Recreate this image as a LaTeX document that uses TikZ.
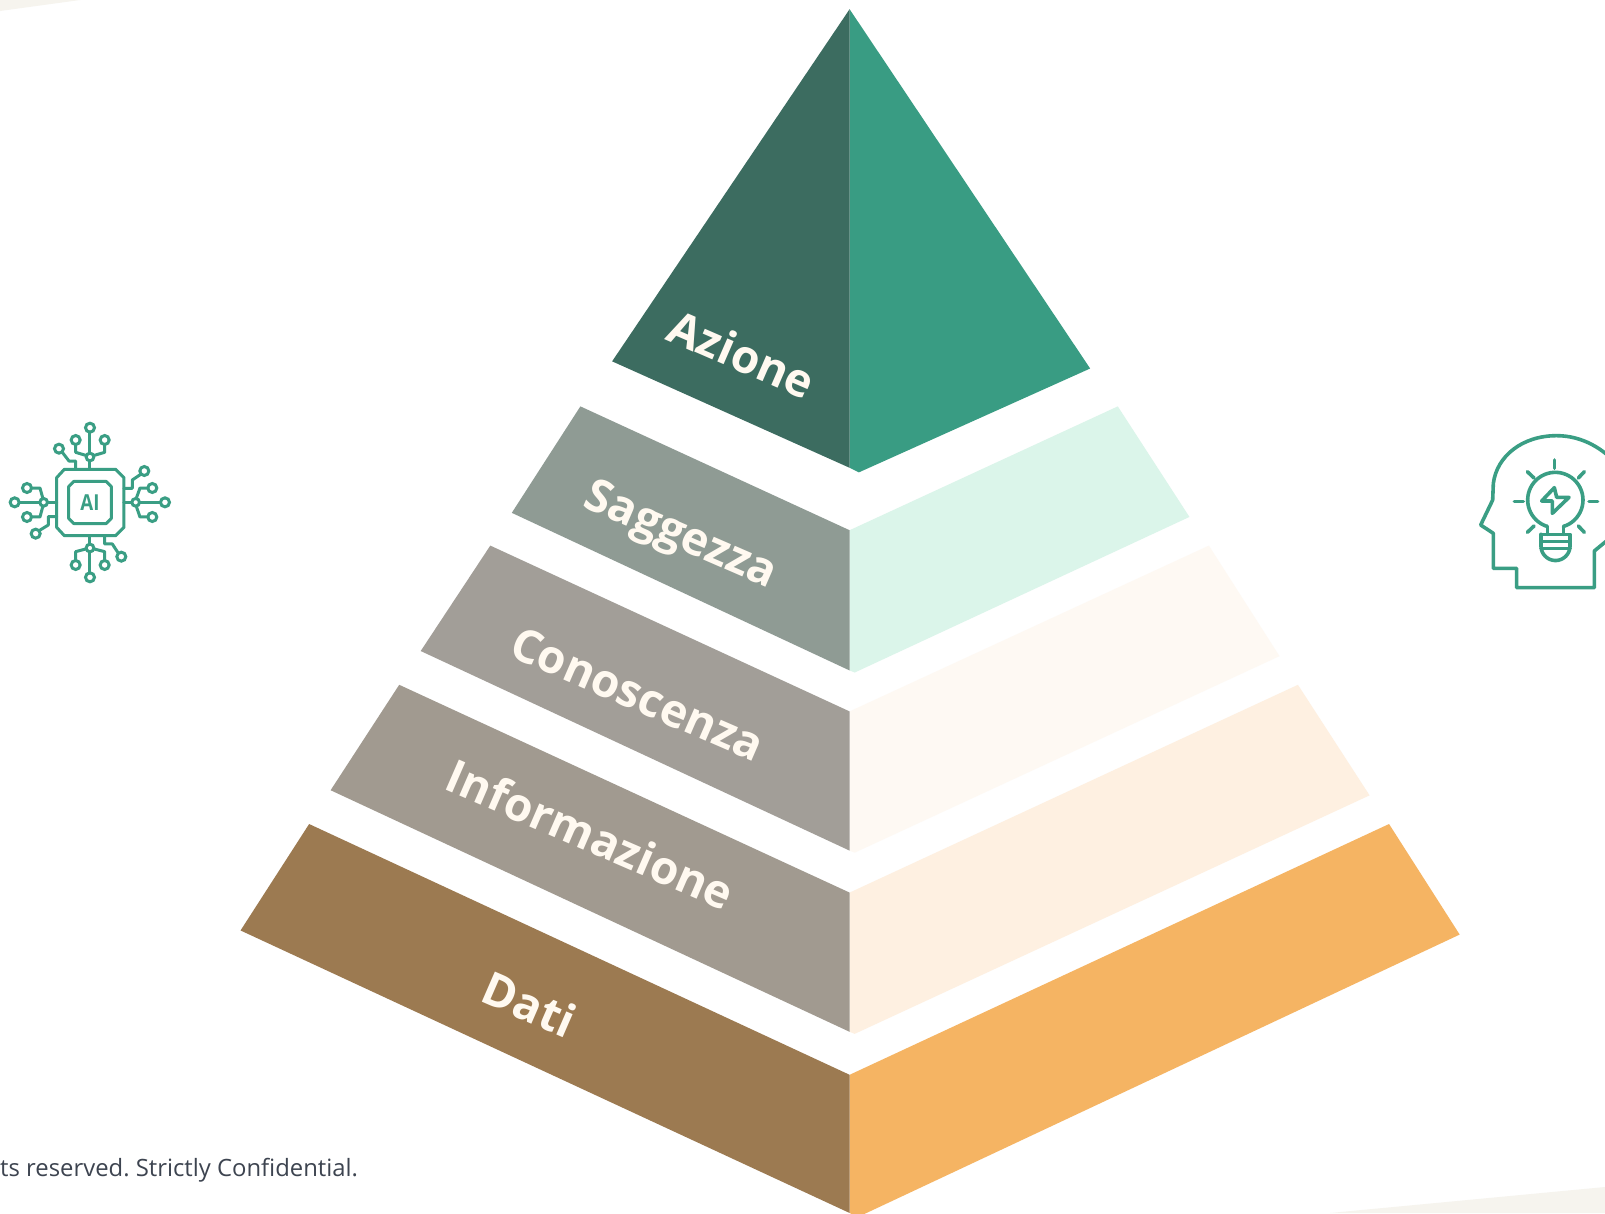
\documentclass[tikz,border=0pt]{standalone}
\usepackage{fontspec}
\setmainfont{Open Sans}
\frenchspacing
\definecolor{dkgreen}{HTML}{3C6C60}
\definecolor{midgreen}{HTML}{399C83}
\definecolor{sagl}{HTML}{8F9B94}
\definecolor{sagr}{HTML}{DBF5EA}
\definecolor{conl}{HTML}{A29E98}
\definecolor{conr}{HTML}{FEF9F3}
\definecolor{infl}{HTML}{A19A90}
\definecolor{infr}{HTML}{FEF0E1}
\definecolor{datl}{HTML}{9C7A51}
\definecolor{datr}{HTML}{F5B463}
\definecolor{lbl}{HTML}{FFF9F0}
\definecolor{foot}{HTML}{3D4450}
\definecolor{beige}{HTML}{F6F4EE}
\definecolor{icon}{HTML}{3A9E84}
\tikzset{
  levellabel/.style={text=lbl,font=\fontsize{46}{52}\selectfont\bfseries,rotate=-23.5,inner sep=0pt},
  iconline/.style={draw=icon,line width=3pt,line join=round,line cap=round},
  headline/.style={draw=icon,line width=3.6pt,line join=round,line cap=round},
  pin/.style={draw=icon,line width=3pt,fill=white}
}
\begin{document}
\begin{tikzpicture}[x=1pt,y=-1pt]
\clip (0,0) rectangle (1605,1213);
\fill[white] (0,0) rectangle (1605,1213);
% corner remnants
\fill[beige] (0,0) -- (0,11) -- (80,0) -- cycle;
\fill[beige] (1330,1213) -- (1605,1187) -- (1605,1213) -- cycle;
% pyramid (coordinates in the 1568-wide view)
\begin{scope}[scale=1.02360]
\fill[midgreen] (830,9) -- (1065,360) -- (839,461.5) -- (830,457) -- cycle;
\fill[dkgreen] (830,9) -- (598,353) -- (830,457) -- cycle;
\fill[sagr] (830,518) -- (1092,397) -- (1162,505) -- (835,657) -- (830,655) -- cycle;
\fill[sagl] (567,397) -- (500,501) -- (830,655) -- (830,518) -- cycle;
\fill[conr] (830,695) -- (1181,533) -- (1250,641) -- (835,833) -- (830,831) -- cycle;
\fill[conl] (479,533) -- (411,636) -- (830,831) -- (830,695) -- cycle;
\fill[infr] (830,872) -- (1268,669) -- (1338,777) -- (835,1010) -- (830,1008) -- cycle;
\fill[infl] (390,669) -- (323,772) -- (830,1008) -- (830,872) -- cycle;
\fill[datr] (830,1050) -- (1357,805) -- (1426,913) -- (838,1189) -- (830,1185) -- cycle;
\fill[datl] (302,805) -- (235,909) -- (830,1185) -- (830,1050) -- cycle;
\node[levellabel] (azione) at (725,346) {Azione};
\node[levellabel] (saggezza) at (664,525) {Saggezza};
\node[levellabel] (conoscenza) at (623,678) {Conoscenza};
\node[levellabel] (informazione) at (577,815) {Informazione};
\node[levellabel] (dati) at (517,981) {Dati};
\end{scope}
\node[anchor=base west,inner sep=0pt,text=foot,font=\fontsize{23.85}{27}\selectfont] (footer) at (0,1176.5) {ts reserved. Strictly Confidential.};
% AI chip icon
\begin{scope}[shift={(0,410)},x=0.3333pt,y=-0.3333pt]
\draw[iconline] (193,178) -- (347,178) -- (372,203) -- (372,352) -- (347,377) -- (193,377) -- (170,352) -- (170,203) -- cycle;
\draw[iconline] (222,214) -- (318,214) -- (334,230) -- (334,325) -- (318,341) -- (222,341) -- (206,325) -- (206,230) -- cycle;
\node[text=icon,inner sep=0pt,font=\fontsize{22}{25}\selectfont\bfseries,xscale=.85] (ailabel) at (270,277) {AI};
% top
\draw[iconline] (270,67) -- (270,178);
\draw[iconline] (227,103) -- (227,127) -- (257,136);
\draw[iconline] (314,103) -- (314,127) -- (283,136);
\draw[iconline] (187,127) -- (207,153) -- (227,153) -- (227,178);
% right
\draw[iconline] (372,277) -- (481,277);
\draw[iconline] (444,234) -- (420,234) -- (410,262);
\draw[iconline] (444,321) -- (420,321) -- (410,292);
\draw[iconline] (422,193) -- (397,210) -- (397,235) -- (372,235);
% bottom
\draw[iconline] (270,377) -- (270,488);
\draw[iconline] (227,451) -- (227,425) -- (257,417);
\draw[iconline] (314,451) -- (314,425) -- (283,417);
\draw[iconline] (354,428) -- (337,402) -- (314,402) -- (314,377);
% left
\draw[iconline] (58,277) -- (170,277);
\draw[iconline] (95,234) -- (120,234) -- (128,263);
\draw[iconline] (95,321) -- (120,321) -- (128,291);
\draw[iconline] (119,361) -- (145,345) -- (145,320) -- (170,320);
\foreach \px/\py in {270/53,227/90,314/90,177/116,495/277,457/234,457/321,433/183,270/502,227/465,314/465,364/440,44/277,81/234,81/321,107/371}
  \draw[pin] (\px,\py) circle[radius=13.5];
\foreach \px/\py in {270/141,407/277,270/414,131/277}
  \draw[pin] (\px,\py) circle[radius=11.5];
\end{scope}
% head icon
\begin{scope}[shift={(1465,420)},x=0.3333pt,y=-0.3333pt]
\draw[headline] (470,150) .. controls (420,85) and (350,47) .. (275,47) .. controls (170,47) and (95,110) .. (85,190) -- (83,240) -- (47,315) -- (85,340) -- (85,445) -- (155,445) -- (155,503) -- (388,503) -- (388,393) -- (440,350);
\draw[headline] plot[domain=-73:253,samples=50] ({271+83*cos(\x)},{240-83*sin(\x)});
\draw[headline] (295,319) -- (295,343);
\draw[headline] (247,319) -- (247,343);
\draw[headline] (228,343) -- (315,343) -- (315,378);
\draw[headline] plot[domain=0:-180,samples=30] ({271.5+43.5*cos(\x)},{378-43.5*sin(\x)});
\draw[headline] (228,378) -- (228,343);
\draw[headline] (228,365) -- (315,365);
\draw[headline] (228,385) -- (315,385);
\draw[headline] (268,120) -- (268,145);
\draw[headline] (187,155) -- (207,174);
\draw[headline] (358,155) -- (340,174);
\draw[headline] (148,244) -- (175,244);
\draw[headline] (372,244) -- (398,244);
\draw[headline] (187,337) -- (207,318);
\draw[headline] (358,337) -- (340,318);
\draw[headline] (268,203) -- (230,243) -- (262,243) -- (262,280) -- (312,232) -- (275,232) -- cycle;
\end{scope}
\end{tikzpicture}
\end{document}
